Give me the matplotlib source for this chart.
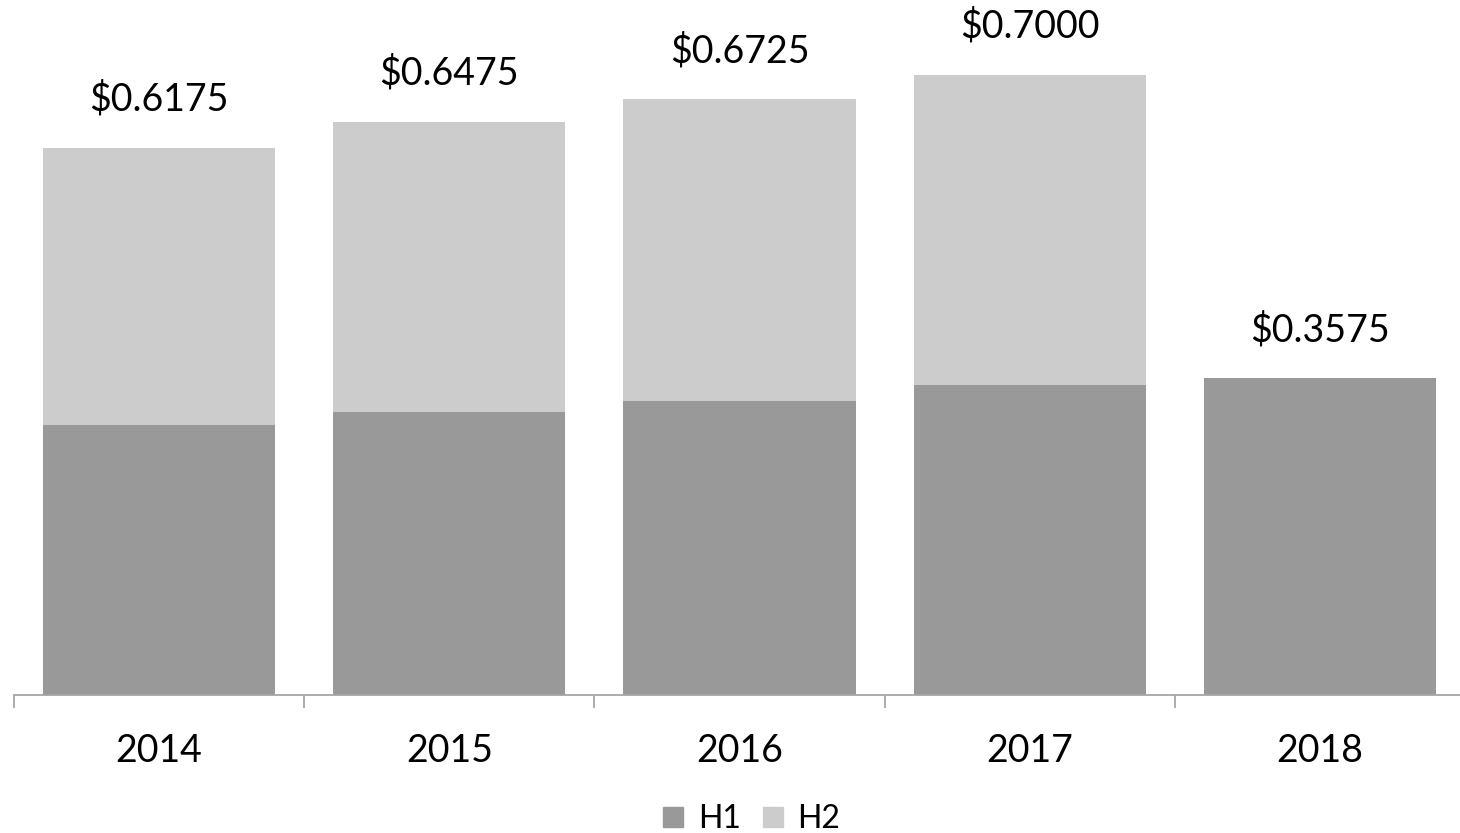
import matplotlib.pyplot as plt
import numpy as np
from matplotlib.patches import Patch

years = ['2014', '2015', '2016', '2017', '2018']
h1 = [0.3050, 0.3200, 0.3325, 0.3500, 0.3575]
totals = [0.6175, 0.6475, 0.6725, 0.7000, 0.3575]
h2 = [t - a for t, a in zip(totals, h1)]

plt.rcParams['font.family'] = ['Lato', 'DejaVu Sans']

fig = plt.figure(figsize=(14.6, 8.33), dpi=100)
ax = fig.add_axes([14/1460, 138/833, 1451/1460, 695/833])

x = np.arange(len(years))
ax.bar(x, h1, width=0.8, color='#999999', label='H1')
ax.bar(x, h2, bottom=h1, width=0.8, color='#cccccc', label='H2')

for xi, t in zip(x, totals):
    ax.annotate(f'${t:.4f}', (xi, t), xytext=(0, 35), textcoords='offset points',
                ha='center', va='center', fontsize=27)

ax.set_xlim(-0.5, len(years) - 0.5)
ax.set_ylim(0, 0.7847)

for s in ['top', 'right', 'left']:
    ax.spines[s].set_visible(False)
ax.spines['bottom'].set_color('#a6a6a6')
ax.spines['bottom'].set_linewidth(1.3)
ax.set_yticks([])

ax.set_xticks(x)
ax.set_xticklabels(years, fontsize=27)
ax.tick_params(axis='x', which='major', length=0, pad=27)
ax.set_xticks(np.arange(-0.5, len(years), 1.0), minor=True)
ax.tick_params(axis='x', which='minor', length=9, width=1.3, color='#a6a6a6')

handles = [Patch(color='#999999', label='H1'), Patch(color='#cccccc', label='H2')]
fig.legend(handles=handles, loc='lower center', bbox_to_anchor=(0.515, -0.036), ncol=2,
           frameon=False, fontsize=23, handlelength=0.63, handleheight=0.63,
           handletextpad=0.45, columnspacing=0.7)

fig.savefig('out.png', dpi=100)
